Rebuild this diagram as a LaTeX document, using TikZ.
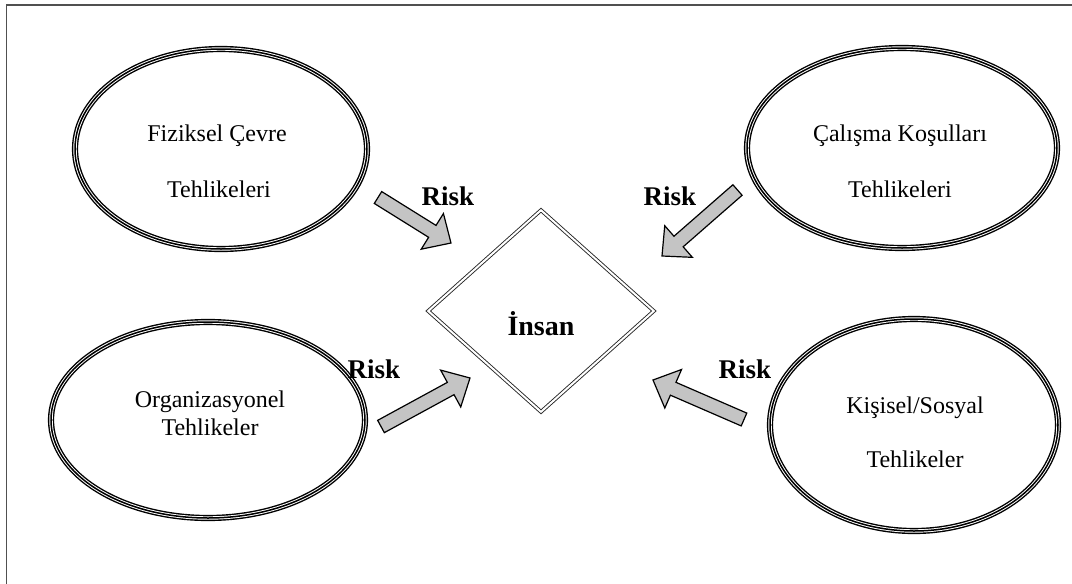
\documentclass[tikz,border=0pt]{standalone}
\usepackage{fontspec}
\setmainfont{Liberation Serif}
\usetikzlibrary{shapes.geometric,calc}

\definecolor{arrowfill}{HTML}{C4C4C4}
\definecolor{framegray}{HTML}{505050}

% block arrow from tail coordinate #2 to tip coordinate #3; #1 names its neck
\newcommand\blockarrow[3]{%
  \coordinate (#1-neck) at ($(#3)!22pt!(#2)$);
  \draw[riskarrow]
    ($(#2)!7pt!90:(#3)$) -- ($(#1-neck)!7pt!-90:(#2)$) -- ($(#1-neck)!21pt!-90:(#2)$)
    -- (#3)
    -- ($(#1-neck)!21pt!90:(#2)$) -- ($(#1-neck)!7pt!90:(#2)$) -- ($(#2)!7pt!-90:(#3)$)
    -- cycle;
}

\begin{document}
\begin{tikzpicture}[x=1pt,y=-1pt,
  hazard/.style={ellipse, inner sep=0pt, draw=black, line width=6.2pt,
    postaction={draw=white, line width=3.4pt},
    postaction={draw=black, line width=1.5pt}},
  hazardtext/.style={anchor=base, inner sep=0pt, font=\fontsize{24}{28}\selectfont},
  risklabel/.style={anchor=base, inner sep=0pt, font=\fontsize{27}{32}\selectfont\bfseries},
  riskarrow/.style={draw=black, line width=1.2pt, fill=arrowfill, line join=miter},
  human/.style={diamond, draw=black!85, double=white, double distance=2pt,
    line width=0.9pt, inner sep=0pt, minimum width=226pt, minimum height=202pt}]

\useasboundingbox (0,0) rectangle (1072,584);

% page frame
\draw[framegray, line width=1.6pt] (6.5,590) -- (6.5,5) -- (1080,5);

% hazard groups
\node[hazard, minimum width=292pt, minimum height=200pt] (fiz) at (221,149) {};
\node[hazard, minimum width=310pt, minimum height=200pt] (cal) at (902,148) {};
\node[hazard, minimum width=314pt, minimum height=196pt] (org) at (208,420) {};
\node[hazard, minimum width=288pt, minimum height=212pt] (kis) at (914,425) {};

\node[hazardtext] (fiz1) at (217,141.5) {Fiziksel Çevre};
\node[hazardtext] (fiz2) at (219,197.5) {Tehlikeleri};
\node[hazardtext] (cal1) at (900,141.5) {Çalışma Koşulları};
\node[hazardtext] (cal2) at (900,197) {Tehlikeleri};
\node[hazardtext] (org1) at (210,407) {Organizasyonel};
\node[hazardtext] (org2) at (210,435) {Tehlikeler};
\node[hazardtext] (kis1) at (915,413) {Kişisel/Sosyal};
\node[hazardtext] (kis2) at (915,467) {Tehlikeler};

% the person at the centre
\node[human] (insan) at (541,311) {};
\node[anchor=base, inner sep=0pt, font=\fontsize{28}{33}\selectfont\bfseries] (insanlbl) at (541,335) {İnsan};

% risk arrows pointing at the person
\coordinate (r1t) at (378,197.5);  \coordinate (r1h) at (451,243);
\coordinate (r2t) at (737.5,190);  \coordinate (r2h) at (662,256);
\coordinate (r3t) at (381,426.5);  \coordinate (r3h) at (470,378);
\coordinate (r4t) at (744,419.5);  \coordinate (r4h) at (653,380);
\blockarrow{r1}{r1t}{r1h}
\blockarrow{r2}{r2t}{r2h}
\blockarrow{r3}{r3t}{r3h}
\blockarrow{r4}{r4t}{r4h}

\node[risklabel] (risk1) at (448,205) {Risk};
\node[risklabel] (risk2) at (670,205) {Risk};
\node[risklabel] (risk3) at (374,378) {Risk};
\node[risklabel] (risk4) at (745,378) {Risk};

\end{tikzpicture}
\end{document}
